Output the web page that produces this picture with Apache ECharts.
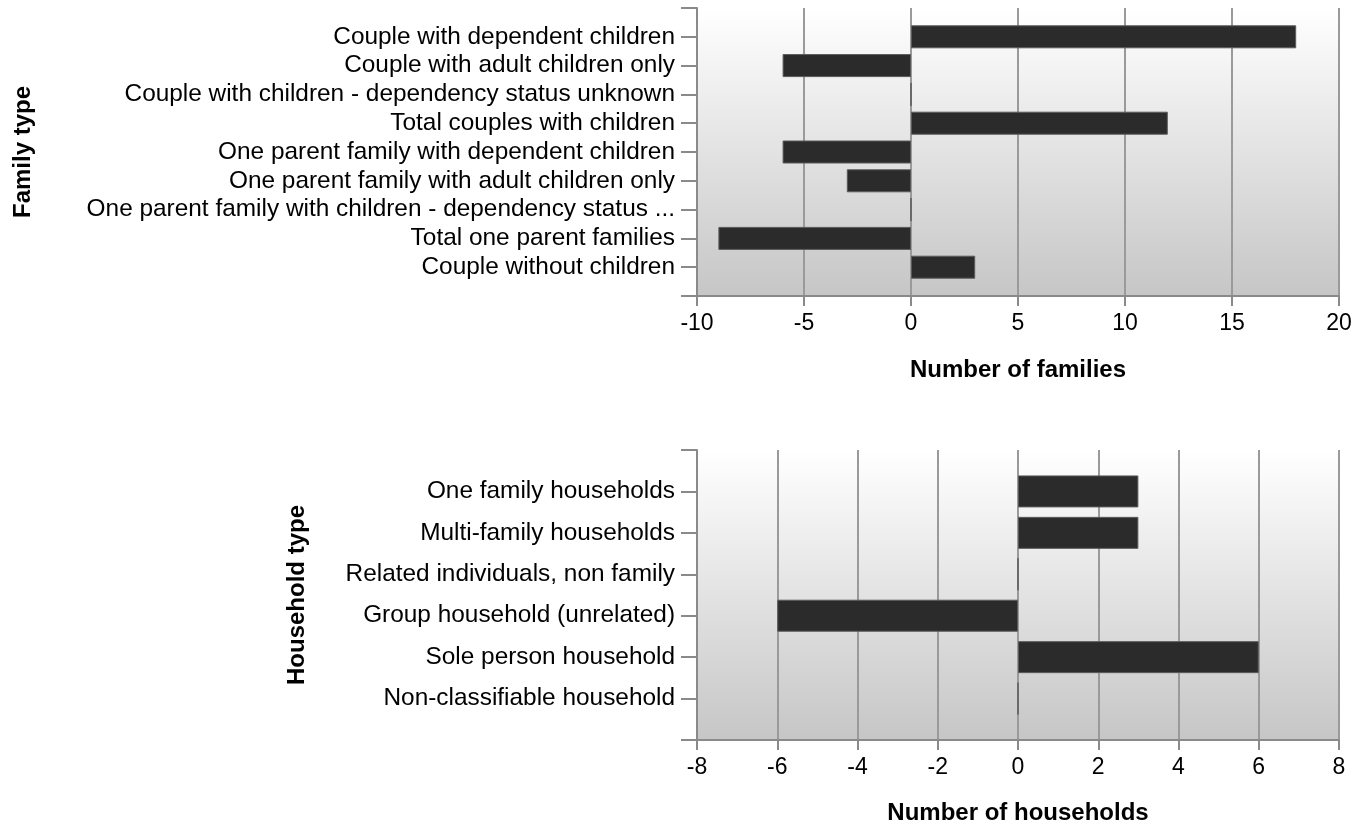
<!DOCTYPE html>
<html>
<head>
<meta charset="utf-8">
<script src="https://cdn.jsdelivr.net/npm/echarts@6/dist/echarts.min.js"></script>
<style>
html,body{margin:0;padding:0;background:#fff;}
#chart{width:1362px;height:828px;}
</style>
</head>
<body>
<div id="chart"></div>
<script>
const familyCategories = [
  'Couple with dependent children',
  'Couple with adult children only',
  'Couple with children - dependency status unknown',
  'Total couples with children',
  'One parent family with dependent children',
  'One parent family with adult children only',
  'One parent family with children - dependency status ...',
  'Total one parent families',
  'Couple without children'
];
const familyValues = [18, -6, 0, 12, -6, -3, 0, -9, 3];
const familyTicks = { min: -10, max: 20, interval: 5 };

const householdCategories = [
  'One family households',
  'Multi-family households',
  'Related individuals, non family',
  'Group household (unrelated)',
  'Sole person household',
  'Non-classifiable household'
];
const householdValues = [3, 3, 0, -6, 6, 0];
const householdTicks = { min: -8, max: 8, interval: 2 };

const FONT = 'Liberation Sans';
const chart = echarts.init(document.getElementById('chart'), null, { renderer: 'canvas' });

function pad(arr, fill) { return [fill].concat(arr, [fill]); }

const bg = new echarts.graphic.LinearGradient(0, 0, 0, 1, [
  { offset: 0, color: '#ffffff' },
  { offset: 1, color: '#c6c6c6' }
]);

function xAxis(gridIndex, ticks, name, gap) {
  return {
    type: 'value', gridIndex: gridIndex,
    min: ticks.min, max: ticks.max, interval: ticks.interval,
    name: name, nameLocation: 'middle', nameGap: gap,
    nameTextStyle: { fontFamily: FONT, fontSize: 24, fontWeight: 'bold', color: '#000' },
    axisLine: { show: true, onZero: false, lineStyle: { color: '#8a8a8a', width: 2 } },
    axisTick: { show: true, length: 10, lineStyle: { color: '#8a8a8a', width: 2 } },
    axisLabel: { fontFamily: FONT, fontSize: 23, color: '#000', margin: 16 },
    splitLine: { show: true, lineStyle: { color: '#9a9a9a', width: 2 } }
  };
}
function yAxis(gridIndex, cats, name, gap) {
  return {
    type: 'category', gridIndex: gridIndex, inverse: true,
    data: pad(cats, ''), boundaryGap: false,
    name: name, nameLocation: 'middle', nameGap: gap, nameRotate: 90,
    nameTextStyle: { fontFamily: FONT, fontSize: 24, fontWeight: 'bold', color: '#000' },
    axisLine: { show: true, onZero: false, lineStyle: { color: '#8a8a8a', width: 2 } },
    axisTick: { show: true, length: 16, interval: 0, lineStyle: { color: '#8a8a8a', width: 2 } },
    axisLabel: { fontFamily: FONT, fontSize: 24.4, color: '#000', margin: 22, interval: 0 },
    splitLine: { show: false }
  };
}

chart.setOption({
  animation: false,
  backgroundColor: '#fff',
  grid: [
    { left: 697, top: 8, width: 642, height: 288, show: true, backgroundColor: bg, borderWidth: 0 },
    { left: 697, top: 450, width: 642, height: 290, show: true, backgroundColor: bg, borderWidth: 0 }
  ],
  xAxis: [
    xAxis(0, familyTicks, 'Number of families', 62),
    xAxis(1, householdTicks, 'Number of households', 61)
  ],
  yAxis: [
    yAxis(0, familyCategories, 'Family type', 662),
    yAxis(1, householdCategories, 'Household type', 388)
  ],
  series: [
    {
      type: 'bar', xAxisIndex: 0, yAxisIndex: 0,
      data: pad(familyValues, null), barWidth: 23,
      itemStyle: { color: '#2b2b2b', borderColor: '#5a5a5a', borderWidth: 1 }
    },
    {
      type: 'bar', xAxisIndex: 1, yAxisIndex: 1,
      data: pad(householdValues, null), barWidth: 32,
      itemStyle: { color: '#2b2b2b', borderColor: '#5a5a5a', borderWidth: 1 }
    }
  ]
});
</script>
</body>
</html>
